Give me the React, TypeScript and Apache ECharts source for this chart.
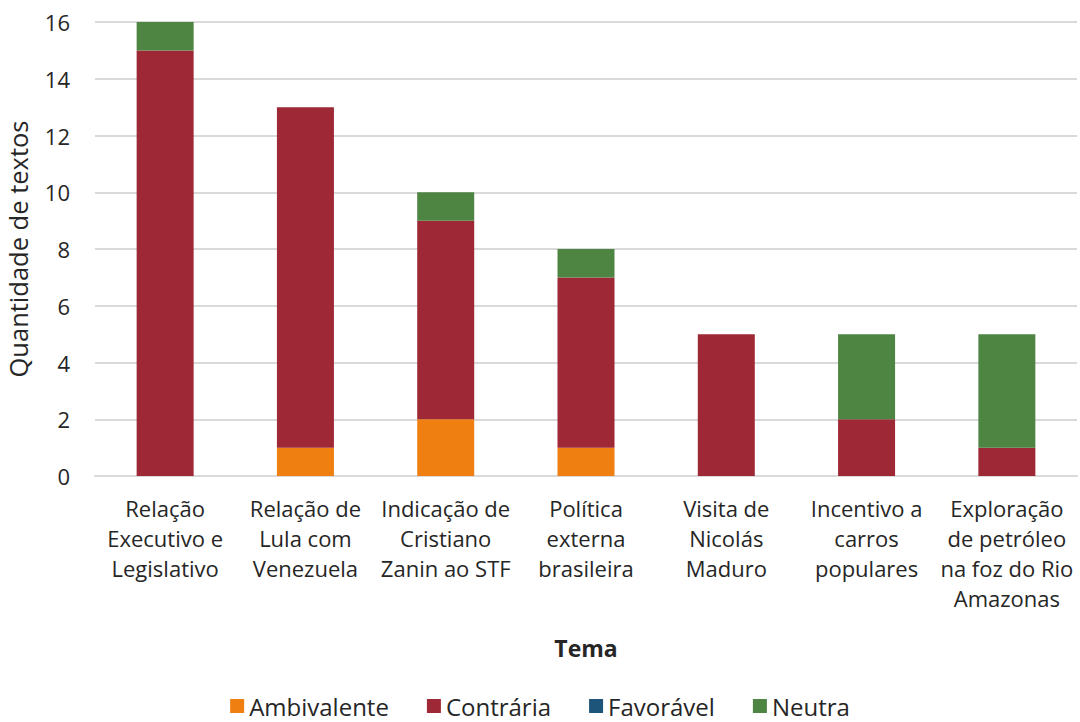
import React, { useEffect, useRef } from "react";
import * as echarts from "echarts";

const categories = [
  "Relação\nExecutivo e\nLegislativo",
  "Relação de\nLula com\nVenezuela",
  "Indicação de\nCristiano\nZanin ao STF",
  "Política\nexterna\nbrasileira",
  "Visita de\nNicolás\nMaduro",
  "Incentivo a\ncarros\npopulares",
  "Exploração\nde petróleo\nna foz do Rio\nAmazonas",
];
const ambivalente = [0, 1, 2, 1, 0, 0, 0];
const contraria = [15, 12, 7, 6, 5, 2, 1];
const favoravel = [0, 0, 0, 0, 0, 0, 0];
const neutra = [1, 0, 1, 1, 0, 3, 4];

const FONT = "Open Sans";

export default function App() {
  const ref = useRef<HTMLDivElement>(null);
  useEffect(() => {
    if (!ref.current) return;
    const chart = echarts.init(ref.current, null, { renderer: "svg" });
    const mk = (name: string, data: number[], color: string) => ({
      name,
      type: "bar",
      stack: "total",
      data,
      barWidth: 57,
      itemStyle: { color },
    });
    chart.setOption({
      animation: false,
      textStyle: { fontFamily: FONT },
      grid: { left: 95, right: 3, top: 22, bottom: 246, outerBoundsMode: "none", containLabel: false },
      legend: {
        bottom: -1,
        left: "center",
        itemWidth: 14,
        itemHeight: 14,
        itemGap: 38,
        icon: "rect",
        textStyle: { fontSize: 24, color: "#262626", fontFamily: FONT },
        data: ["Ambivalente", "Contrária", "Favorável", "Neutra"],
      },
      xAxis: {
        type: "category",
        data: categories,
        name: "Tema",
        nameLocation: "middle",
        nameGap: 160,
        nameTextStyle: { fontSize: 23, fontWeight: "bold", color: "#262626", fontFamily: FONT },
        axisLine: { lineStyle: { color: "#d9d9d9", width: 2 } },
        axisTick: { show: false },
        axisLabel: {
          interval: 0,
          fontSize: 22,
          lineHeight: 30,
          color: "#262626",
          margin: 17,
          fontFamily: FONT,
          hideOverlap: false,
        },
      },
      yAxis: {
        type: "value",
        min: 0,
        max: 16,
        interval: 2,
        name: "Quantidade de textos",
        nameLocation: "middle",
        nameGap: 64,
        nameRotate: 90,
        nameTextStyle: { fontSize: 25.5, color: "#262626", fontFamily: FONT },
        axisLine: { show: false },
        axisTick: { show: false },
        axisLabel: { fontSize: 22, color: "#262626", margin: 25, fontFamily: FONT },
        splitLine: { lineStyle: { color: "#d9d9d9", width: 2 } },
      },
      series: [
        mk("Ambivalente", ambivalente, "#EF7F10"),
        mk("Contrária", contraria, "#9E2836"),
        mk("Favorável", favoravel, "#1C5579"),
        mk("Neutra", neutra, "#4E8543"),
      ],
    });
    return () => chart.dispose();
  }, []);
  return <div ref={ref} style={{ width: 1080, height: 722, position: "absolute", left: 0, top: 0 }} />;
}
